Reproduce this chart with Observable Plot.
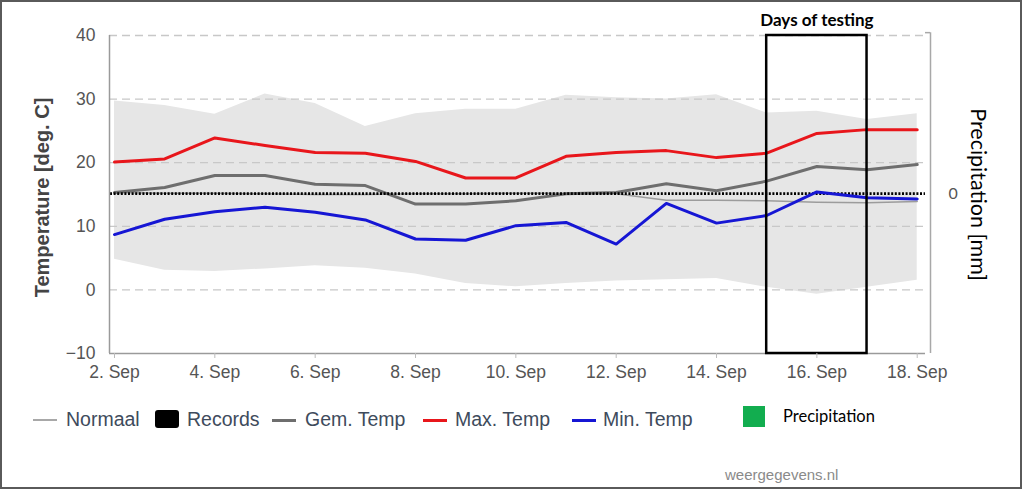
<!DOCTYPE html>
<html>
<head>
<meta charset="utf-8">
<script src="https://cdn.jsdelivr.net/npm/d3@7"></script>
<script src="https://cdn.jsdelivr.net/npm/@observablehq/plot@0.6"></script>
<style>
  html, body { margin: 0; padding: 0; background: #fff; }
  #wrap { position: relative; width: 1022px; height: 489px; overflow: hidden; background: #fff; }
  #frame { position: absolute; left: 0; top: 0; width: 1022px; height: 489px; box-sizing: border-box; border: 2px solid #5a5a5a; pointer-events: none; }
  #chart { position: absolute; left: 0; top: 0; }
  .leg { position: absolute; font-family: "Liberation Sans", Arial, sans-serif; font-size: 19.5px; color: #3e4b5c; line-height: 1; white-space: nowrap; }
  .sw { position: absolute; }
  #credit { position: absolute; left: 725px; top: 466px; font-family: "Liberation Sans", Arial, sans-serif; font-size: 15px; color: #8a8a8a; }
</style>
</head>
<body>
<div id="wrap">
  <div id="chart"></div>
  <div id="legend"></div>
  <div id="credit">weergegevens.nl</div>
  <div id="frame"></div>
</div>
<script>
// ---- data ----
const days = [2, 3, 4, 5, 6, 7, 8, 9, 10, 11, 12, 13, 14, 15, 16, 17, 18];
const normaal = [15.3, 15.2, 15.2, 15.1, 15.0, 15.0, 15.1, 15.1, 15.2, 15.2, 15.1, 14.1, 14.1, 14.0, 13.8, 13.7, 13.9];
const recordsHigh = [29.7, 29.0, 27.6, 30.8, 29.3, 25.7, 27.7, 28.4, 28.4, 30.6, 30.2, 30.0, 30.7, 27.8, 28.1, 26.8, 27.7];
const recordsLow = [4.8, 3.1, 2.9, 3.3, 3.8, 3.4, 2.5, 1.0, 0.5, 1.0, 1.4, 1.6, 1.8, 0.4, -0.7, 0.4, 1.5];
const gemTemp = [15.3, 16.1, 18.0, 18.0, 16.6, 16.4, 13.5, 13.5, 14.0, 15.1, 15.3, 16.7, 15.6, 17.1, 19.4, 18.9, 19.7];
const maxTemp = [20.1, 20.6, 23.9, 22.7, 21.6, 21.5, 20.2, 17.6, 17.6, 21.0, 21.6, 21.9, 20.8, 21.5, 24.6, 25.2, 25.2];
const minTemp = [8.7, 11.1, 12.3, 13.0, 12.2, 11.0, 8.0, 7.8, 10.1, 10.6, 7.2, 13.6, 10.5, 11.7, 15.4, 14.5, 14.3];
const testingDays = [15, 17];           // start / end of the "Days of testing" box
const tempTicks = [-10, 0, 10, 20, 30, 40];
const gridTicks = [0, 10, 20, 30, 40];
const xTickDays = [2, 4, 6, 8, 10, 12, 14, 16, 18];
const precipTicks = [0];
const precipZeroTemp = 15.15;           // temperature level where 0 mm sits on the right axis

// ---- build ----
const DAY = 864e5;
const date = d => new Date(Date.UTC(2020, 8, d));
const table = days.map((d, i) => ({
  date: date(d), normaal: normaal[i], high: recordsHigh[i], low: recordsLow[i],
  gem: gemTemp[i], max: maxTemp[i], min: minTemp[i]
}));
const x0 = new Date(+date(2) - 0.0997 * DAY);
const x1 = new Date(+date(2) + 16.265 * DAY);
const xGridEnd = new Date(+date(18) + 0.165 * DAY);
const yTop = 40.45;

const chart = Plot.plot({
  width: 1022,
  height: 390,
  marginLeft: 109,
  marginRight: 92,
  marginTop: 35,
  marginBottom: 37,
  style: { fontFamily: "'Liberation Sans', Arial, sans-serif", fontSize: "17.5px", background: "transparent", overflow: "visible" },
  x: { type: "utc", domain: [x0, x1] },
  y: { domain: [-10, 40] },
  marks: [
    Plot.areaY(table, { x: "date", y1: "low", y2: "high", fill: "#e6e6e6" }),
    Plot.ruleY(gridTicks, { x1: x0, x2: xGridEnd, stroke: "#c8c8c8", strokeWidth: 1.3, strokeDasharray: "8,5" }),
    Plot.lineY(table, { x: "date", y: "normaal", stroke: "#9c9c9c", strokeWidth: 1.5 }),
    Plot.lineY(table, { x: "date", y: "gem", stroke: "#6e6e6e", strokeWidth: 3 }),
    Plot.ruleY(precipTicks, { y: () => precipZeroTemp, x1: new Date(+x0 + 0.02 * DAY), x2: xGridEnd, stroke: "#000", strokeWidth: 2.8, strokeDasharray: "2,1.6" }),
    Plot.lineY(table, { x: "date", y: "max", stroke: "#e8161b", strokeWidth: 3 }),
    Plot.lineY(table, { x: "date", y: "min", stroke: "#1616d4", strokeWidth: 3 }),
    // axis lines
    Plot.ruleX([x0], { y1: -10, y2: 40, stroke: "#9a9a9a", strokeWidth: 1.5 }),
    Plot.ruleY([-10], { x1: x0, x2: xGridEnd, stroke: "#9a9a9a", strokeWidth: 1.5 }),
    Plot.ruleX([x1], { y1: -10, y2: yTop, stroke: "#a8a8a8", strokeWidth: 1.5 }),
    Plot.ruleY([yTop], { x1: xGridEnd, x2: x1, stroke: "#a8a8a8", strokeWidth: 1.5 }),
    // days of testing box
    Plot.rect([{ a: date(testingDays[0]), b: date(testingDays[1]) }], { x1: "a", x2: "b", y1: -10, y2: 40, fill: "none", stroke: "#000", strokeWidth: 2.5 }),
    Plot.text(["Days of testing"], { x: date((testingDays[0] + testingDays[1]) / 2), y: 40, dy: -15, fontFamily: "Lato, sans-serif", fontWeight: "bold", fontSize: 17, fill: "#000" }),
    // axes
    Plot.axisY(tempTicks, { anchor: "left", tickSize: 0, tickPadding: 14, label: null, fill: "#555", fontSize: 17.5 }),
    Plot.axisY(precipTicks.map(() => precipZeroTemp), { anchor: "right", tickSize: 0, tickPadding: 18, tickFormat: () => "0", label: null, fill: "#555", fontFamily: "Lato, sans-serif", fontSize: 16 }),
    Plot.axisX(xTickDays.map(date), { anchor: "bottom", tickSize: 5, tickPadding: 7, stroke: "#bbb", fill: "#555", label: null, tickFormat: d => `${d.getUTCDate()}. Sep`, fontSize: 17.5 }),
    Plot.text(["Temperature [deg. C]"], { frameAnchor: "left", textAnchor: "middle", dx: -67, dy: 3, rotate: -90, fontWeight: "bold", fontSize: 20, fill: "#444" }),
    Plot.text(["Precipitation [mm]"], { frameAnchor: "right", textAnchor: "middle", dx: 47, rotate: 90, fontFamily: "Lato, sans-serif", fontSize: 21.5, fill: "#000" })
  ]
});
document.getElementById("chart").appendChild(chart);

// ---- legend (below the svg) ----
const legendItems = [
  { name: "Normaal", kind: "line", color: "#a8a8a8", sw: 33, tx: 66, lw: 2 },
  { name: "Records", kind: "box", color: "#000", sw: 155, tx: 187 },
  { name: "Gem. Temp", kind: "line", color: "#6e6e6e", sw: 272, tx: 305, lw: 3 },
  { name: "Max. Temp", kind: "line", color: "#e8161b", sw: 423, tx: 455, lw: 3 },
  { name: "Min. Temp", kind: "line", color: "#1616d4", sw: 572, tx: 603, lw: 3 }
];
const leg = document.getElementById("legend");
for (const it of legendItems) {
  const s = document.createElement("div");
  s.className = "sw";
  if (it.kind === "line") {
    Object.assign(s.style, { left: it.sw + "px", top: (420 - it.lw / 2) + "px", width: "24px", height: it.lw + "px", background: it.color });
  } else {
    Object.assign(s.style, { left: it.sw + "px", top: "410px", width: "24px", height: "18px", background: it.color, borderRadius: "3px" });
  }
  leg.appendChild(s);
  const t = document.createElement("div");
  t.className = "leg";
  t.textContent = it.name;
  Object.assign(t.style, { left: it.tx + "px", top: "410px" });
  leg.appendChild(t);
}
const g = document.createElement("div");
g.className = "sw";
Object.assign(g.style, { left: "743px", top: "406px", width: "22px", height: "21px", background: "#12ad4f" });
leg.appendChild(g);
const pt = document.createElement("div");
pt.className = "leg";
pt.textContent = "Precipitation";
Object.assign(pt.style, { left: "783px", top: "408px", fontFamily: "Lato, sans-serif", fontSize: "16.5px", color: "#000" });
leg.appendChild(pt);
</script>
</body>
</html>
